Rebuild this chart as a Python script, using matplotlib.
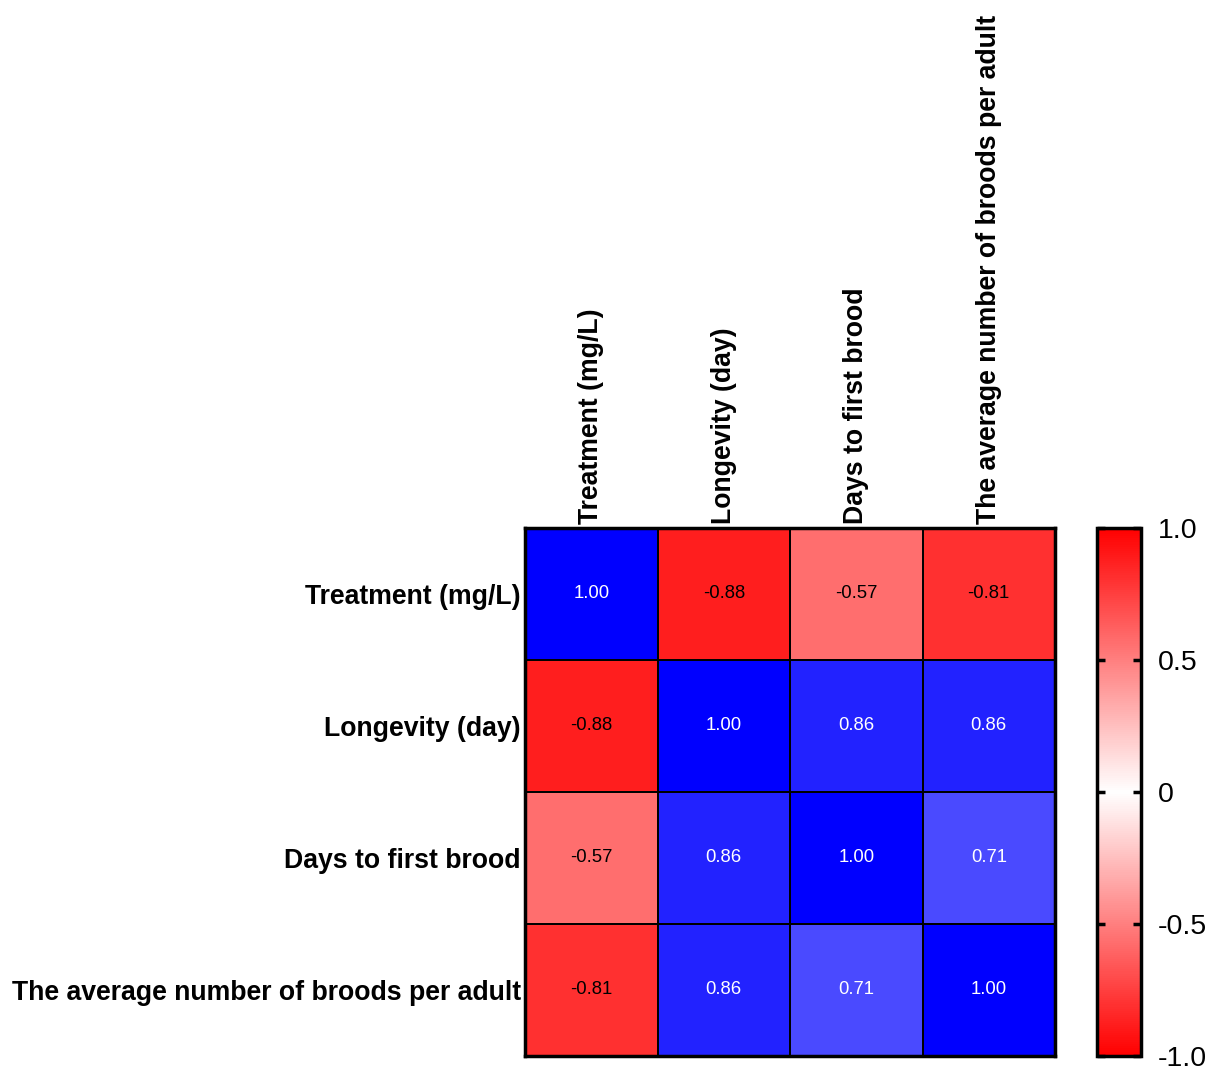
import numpy as np
import matplotlib
matplotlib.use("Agg")
import matplotlib.pyplot as plt
from matplotlib.colors import LinearSegmentedColormap, Normalize
from matplotlib.cm import ScalarMappable

plt.rcParams['font.family'] = ['Liberation Sans', 'DejaVu Sans']

labels = ["Treatment (mg/L)", "Longevity (day)", "Days to first brood",
          "The average number of broods per adult"]
corr = np.array([
    [1.00, -0.88, -0.57, -0.81],
    [-0.88, 1.00, 0.86, 0.86],
    [-0.57, 0.86, 1.00, 0.71],
    [-0.81, 0.86, 0.71, 1.00],
])
cbar_ticks = [-1.0, -0.5, 0, 0.5, 1.0]
cbar_ticklabels = ["-1.0", "-0.5", "0", "0.5", "1.0"]

cell_cmap = LinearSegmentedColormap.from_list("rwb", ["#ff0000", "#ffffff", "#0000ff"])
bar_cmap = LinearSegmentedColormap.from_list("rwr", ["#ff0000", "#ffffff", "#ff0000"])
norm = Normalize(vmin=-1, vmax=1)

fig = plt.figure(figsize=(12.12, 10.67), dpi=100)
ax = fig.add_axes([525/1212, 1-1056/1067, 530/1212, 528/1067])
n = len(labels)
ax.pcolormesh(np.arange(n+1), np.arange(n+1), corr, cmap=cell_cmap, norm=norm,
              edgecolor='black', linewidth=1.2)
ax.set_xlim(0, n)
ax.set_ylim(n, 0)
for i in range(n):
    for j in range(n):
        v = corr[i, j]
        col = 'white' if v > 0 else 'black'
        ax.text(j+0.5, i+0.5, f"{v:.2f}", ha='center', va='center',
                fontsize=13.3, color=col)
ax.set_xticks(np.arange(n)+0.5)
ax.set_yticks(np.arange(n)+0.5)
ax.xaxis.tick_top()
ax.set_xticklabels(labels, rotation=90, fontsize=19.2, fontweight='bold')
ax.set_yticklabels(labels, fontsize=19.2, fontweight='bold')
ax.tick_params(length=0, pad=3)
for s in ax.spines.values():
    s.set_linewidth(2.5)

cax = fig.add_axes([1097/1212, 1-1056/1067, 44/1212, 528/1067])
sm = ScalarMappable(norm=norm, cmap=bar_cmap)
cb = fig.colorbar(sm, cax=cax)
cb.outline.set_linewidth(2.5)
cax.set_yticks(cbar_ticks)
cax.set_yticklabels(cbar_ticklabels)
cax.tick_params(labelsize=20.5, length=6, width=2.5, direction='in', left=True, right=True, pad=12)

fig.savefig("out.png", dpi=100)
